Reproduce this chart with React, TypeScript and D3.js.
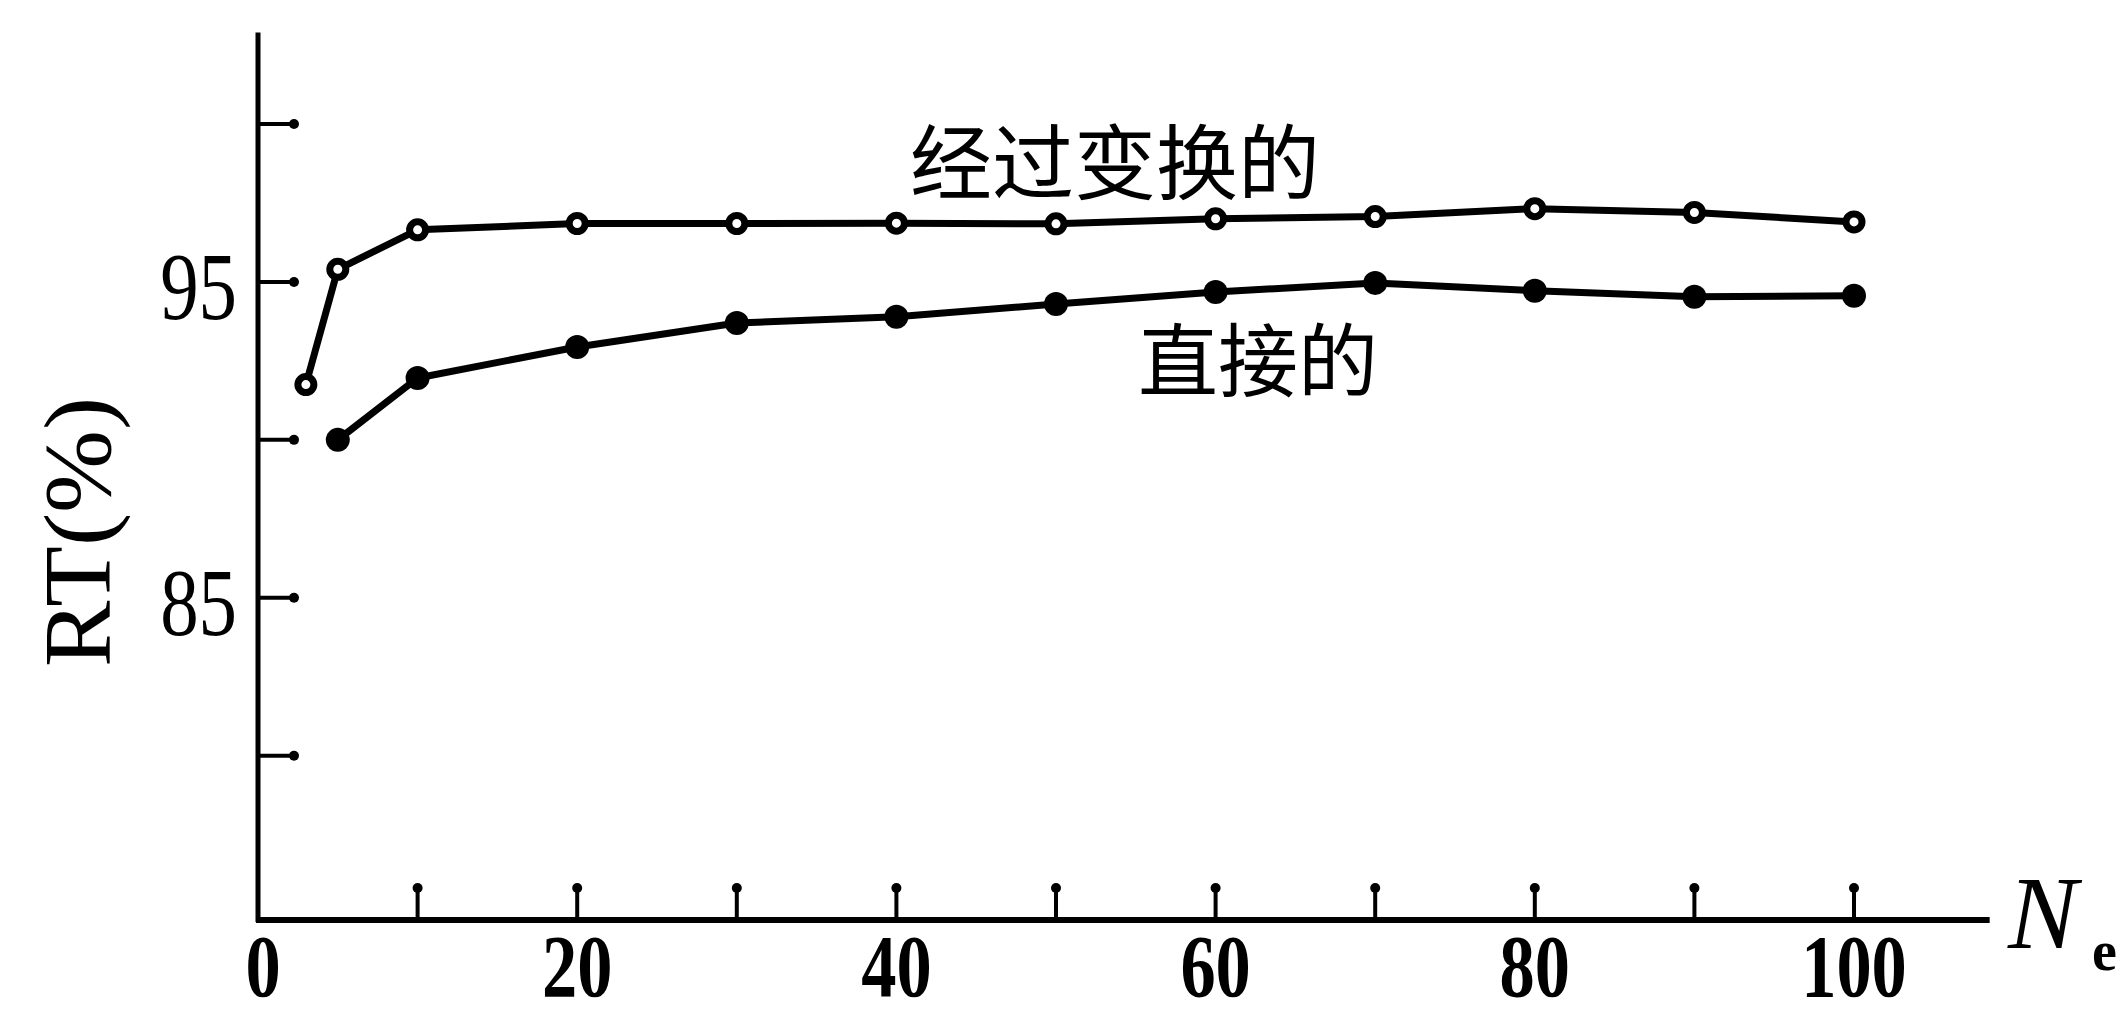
import React from 'react'
import * as d3 from 'd3'

// 经过变换的 (hollow markers)
const nTransformed = [3, 5, 10, 20, 30, 40, 50, 60, 70, 80, 90, 100]
const rtTransformed = [91.75, 95.4, 96.65, 96.85, 96.85, 96.86, 96.84, 97.0, 97.07, 97.32, 97.2, 96.9]

// 直接的 (filled markers)
const nDirect = [5, 10, 20, 30, 40, 50, 60, 70, 80, 90, 100]
const rtDirect = [90.0, 91.96, 92.94, 93.7, 93.9, 94.3, 94.68, 94.97, 94.72, 94.53, 94.56]

const xTicks = [10, 20, 30, 40, 50, 60, 70, 80, 90, 100]
const xTickLabels = [0, 20, 40, 60, 80, 100]
const yTicks = [80, 85, 90, 95, 100]
const yTickLabels = [85, 95]

const W = 2124
const H = 1016

export default function App() {
  const x = d3.scaleLinear().domain([0, 100]).range([258, 1854])
  const y = d3.scaleLinear().domain([74.8, 100]).range([920, 124])

  const x0 = x(0)
  const y0 = y(74.8)
  const xEnd = x(108.5)
  const yTop = y(102.9)

  const line = d3
    .line<[number, number]>()
    .x((d) => x(d[0]))
    .y((d) => y(d[1]))

  const upper: [number, number][] = nTransformed.map((n, i) => [n, rtTransformed[i]])
  const lower: [number, number][] = nDirect.map((n, i) => [n, rtDirect[i]])

  const serif = '"Liberation Serif", "DejaVu Serif", serif'
  const cjk = '"Noto Sans CJK SC", sans-serif'

  return (
    <svg
      width={W}
      height={H}
      viewBox={`0 0 ${W} ${H}`}
      style={{ position: 'absolute', left: 0, top: 0, background: '#fff' }}
    >
      <rect x={0} y={0} width={W} height={H} fill="#fff" />

      {/* axes */}
      <line x1={x0} y1={yTop} x2={x0} y2={y0 + 2} stroke="#000" strokeWidth={5} />
      <line x1={x0 - 2} y1={y0} x2={xEnd} y2={y0} stroke="#000" strokeWidth={6} />

      {/* y ticks, drawn inward */}
      {yTicks.map((t) => (
        <g key={`yt${t}`}>
          <line x1={x0} y1={y(t)} x2={x0 + 36} y2={y(t)} stroke="#000" strokeWidth={4} />
          <circle cx={x0 + 36} cy={y(t)} r={5} fill="#000" />
        </g>
      ))}
      {yTickLabels.map((t) => (
        <text
          key={`yl${t}`}
          transform={`translate(237,${y(t) + 37}) scale(0.8,1)`}
          textAnchor="end"
          fontFamily={serif}
          fontSize={96}
          fill="#000"
        >
          {t}
        </text>
      ))}

      {/* x ticks, drawn upward */}
      {xTicks.map((t) => (
        <g key={`xt${t}`}>
          <line x1={x(t)} y1={y0} x2={x(t)} y2={y0 - 34} stroke="#000" strokeWidth={4} />
          <circle cx={x(t)} cy={y0 - 32} r={5} fill="#000" />
        </g>
      ))}
      {xTickLabels.map((t) => (
        <text
          key={`xl${t}`}
          transform={`translate(${x(t) + (t === 0 ? 5 : 0)},996) scale(0.8,1)`}
          textAnchor="middle"
          fontFamily={serif}
          fontWeight="bold"
          fontSize={88}
          fill="#000"
        >
          {t}
        </text>
      ))}

      {/* axis titles */}
      <text
        transform="translate(110,532) rotate(-90)"
        textAnchor="middle"
        fontFamily={serif}
        fontSize={96}
        textLength={270}
        lengthAdjust="spacingAndGlyphs"
        fill="#000"
      >
        RT(%)
      </text>
      <text x={2008} y={948} fontFamily={serif} fontStyle="italic" fontSize={104} fill="#000">
        N
      </text>
      <text x={2092} y={970} fontFamily={serif} fontWeight="bold" fontSize={56} fill="#000">
        e
      </text>

      {/* series */}
      <path d={line(upper) ?? ''} fill="none" stroke="#000" strokeWidth={7} strokeLinejoin="round" />
      <path d={line(lower) ?? ''} fill="none" stroke="#000" strokeWidth={7} strokeLinejoin="round" />
      {upper.map((d, i) => (
        <circle key={`u${i}`} cx={x(d[0])} cy={y(d[1])} r={8} fill="#fff" stroke="#000" strokeWidth={7} />
      ))}
      {lower.map((d, i) => (
        <circle key={`l${i}`} cx={x(d[0])} cy={y(d[1])} r={12} fill="#000" />
      ))}

      {/* series labels */}
      <text x={1115} y={193} textAnchor="middle" fontFamily={cjk} fontSize={82} fill="#000">
        经过变换的
      </text>
      <text x={1258} y={390} textAnchor="middle" fontFamily={cjk} fontSize={80} fill="#000">
        直接的
      </text>
    </svg>
  )
}
